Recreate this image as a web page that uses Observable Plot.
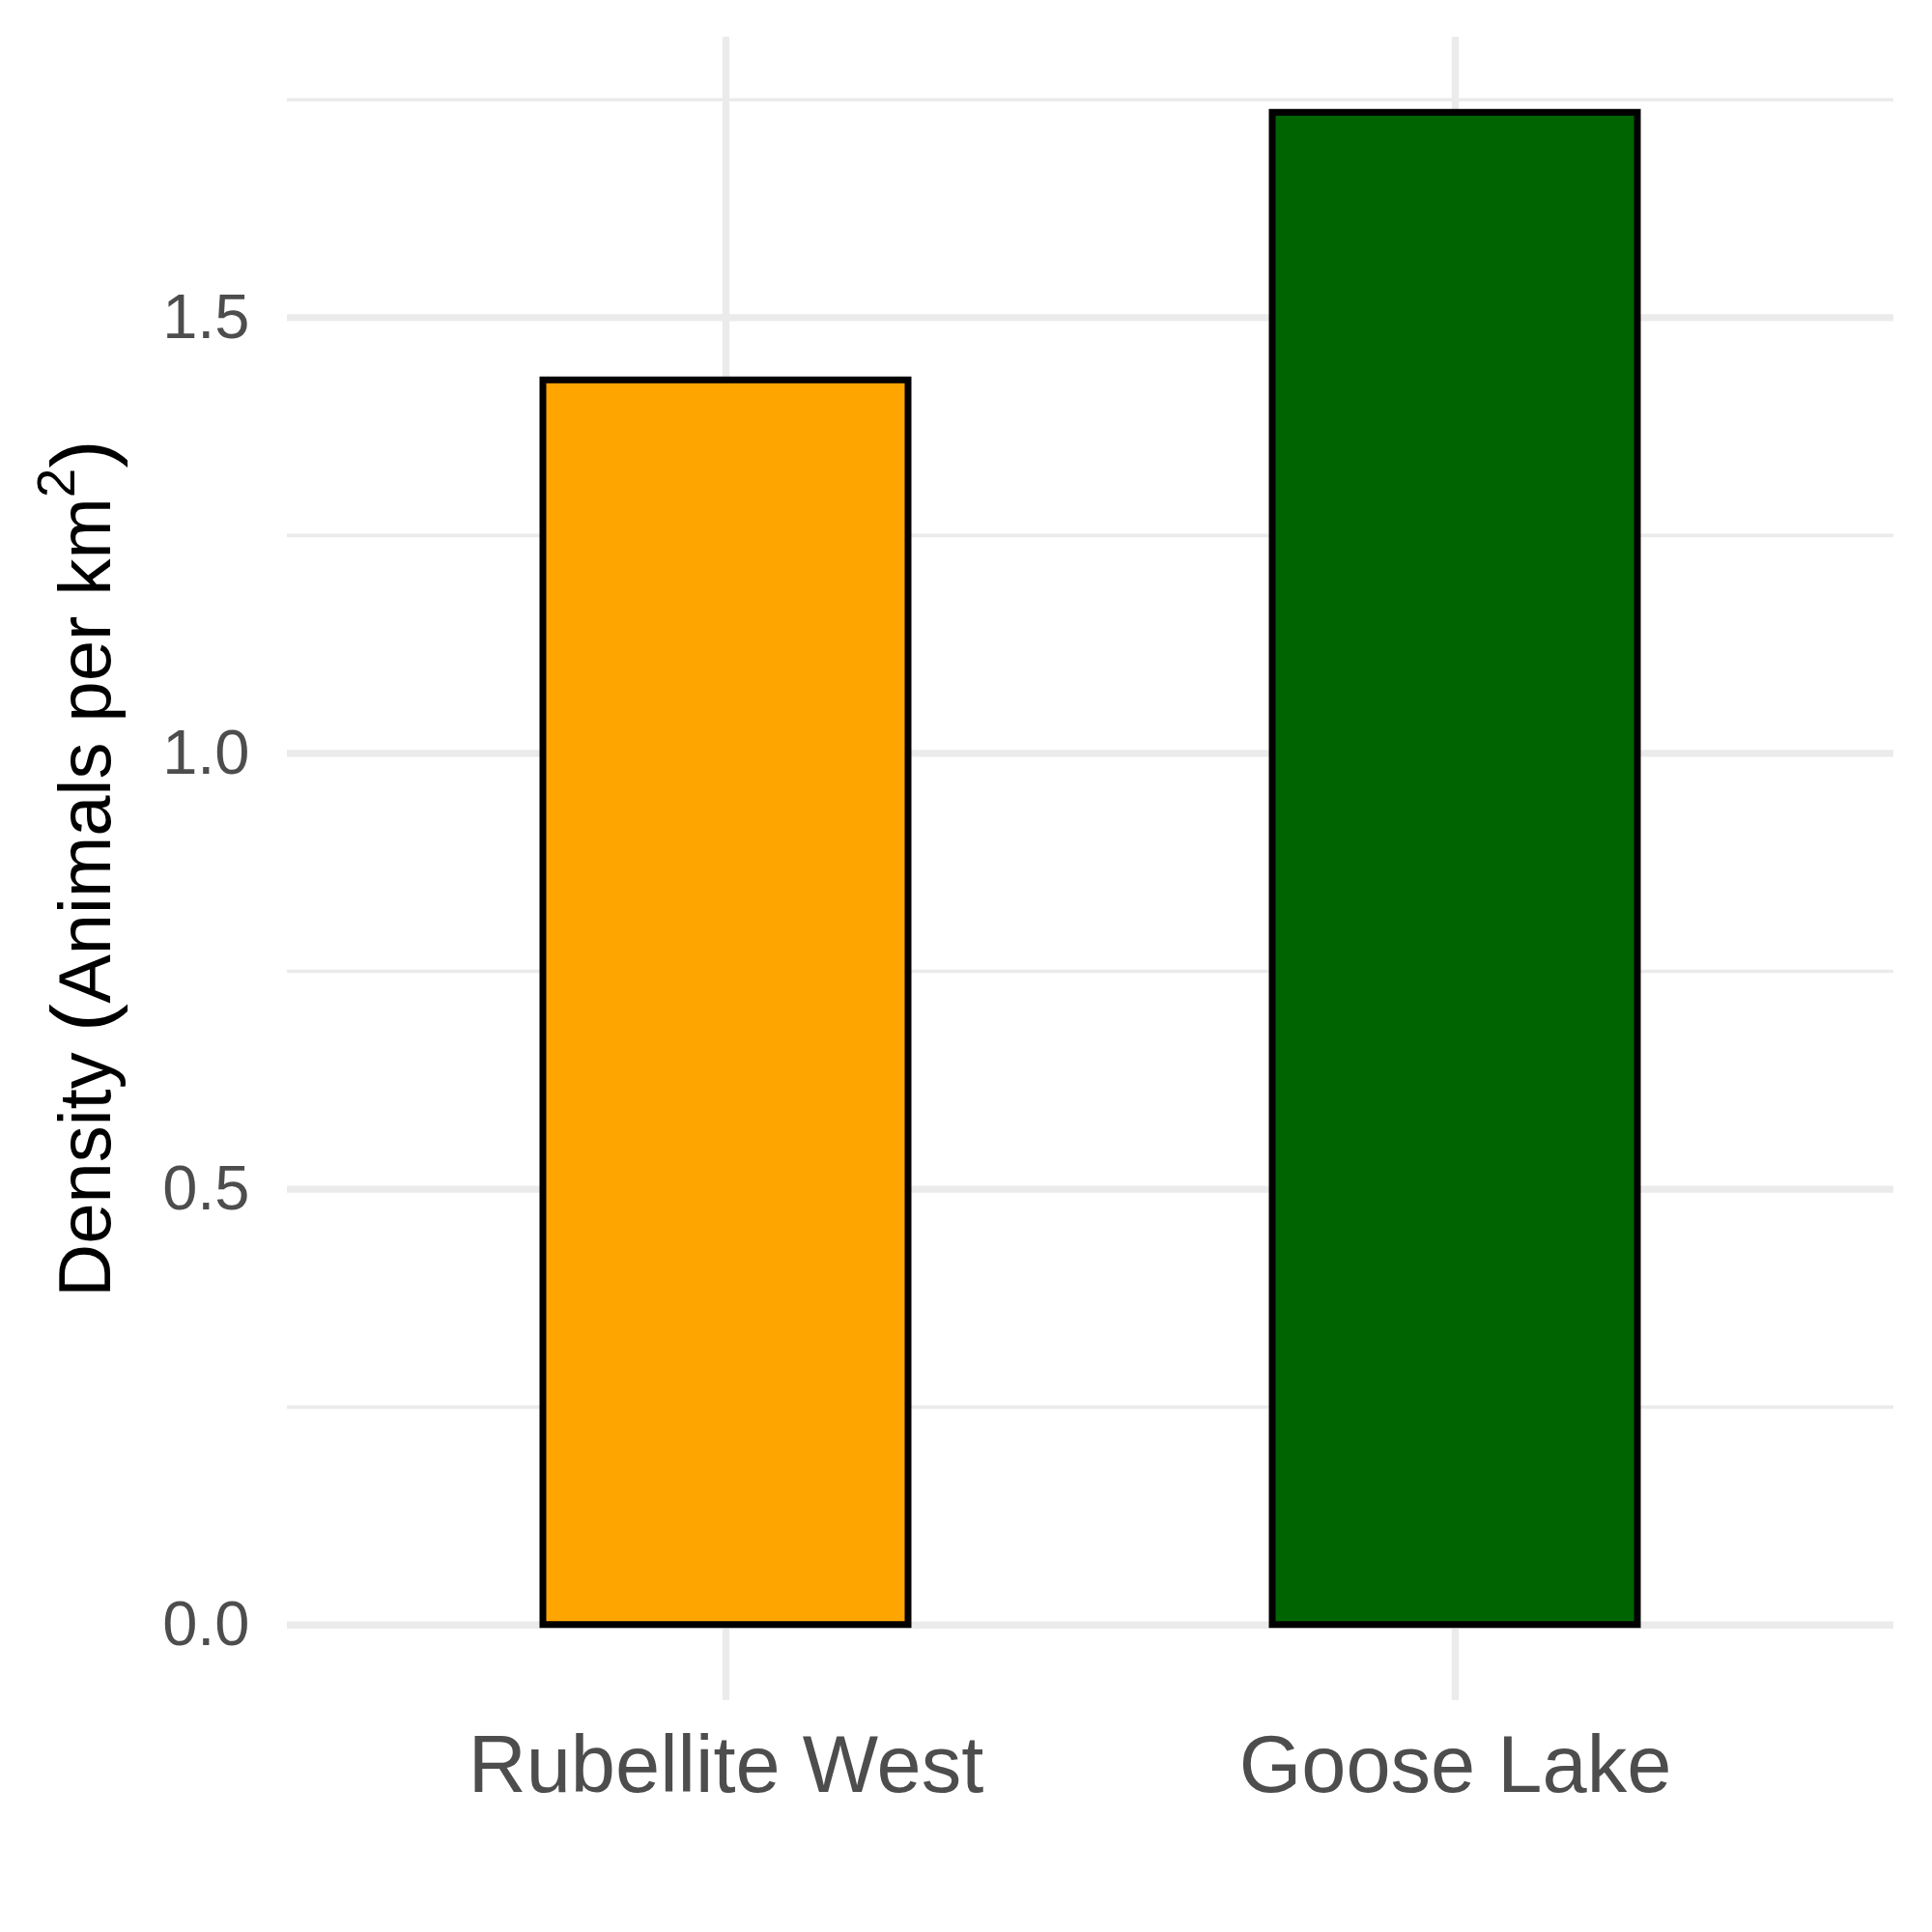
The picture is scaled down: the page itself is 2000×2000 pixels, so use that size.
<!DOCTYPE html>
<html>
<head>
<meta charset="utf-8">
<script src="https://cdn.jsdelivr.net/npm/d3@7"></script>
<script src="https://cdn.jsdelivr.net/npm/@observablehq/plot@0.6"></script>
<style>
  html, body { margin: 0; padding: 0; background: #ffffff; }
  #chart { width: 2000px; height: 2000px; }
</style>
</head>
<body>
<div id="chart"></div>
<script>
// ---- data ----
const sites = ["Rubellite West", "Goose Lake"];
const density = [1.428, 1.735];
const barColors = ["#FFA500", "#006400"];
const majorTicks = [0, 0.5, 1.0, 1.5];
const majorTickLabels = ["0.0", "0.5", "1.0", "1.5"];
const minorTicks = [0.25, 0.75, 1.25, 1.75];
const yTitleParts = ["Density ", "(", "Animals per km", "2", ")"];

const table = sites.map((s, i) => ({site: s, density: density[i]}));

// ggplot-like 5% expansion of the y range
const yMax = d3.max(density);
const pad = 0.05 * yMax;

const font = "'Liberation Sans', Arial, sans-serif";
const gridColor = "#EBEBEB";

const chart = Plot.plot({
  width: 2000,
  height: 2000,
  marginLeft: 297,
  marginRight: 40,
  marginTop: 38,
  marginBottom: 240,
  style: {fontFamily: font, background: "#ffffff", color: "#000000"},
  x: {domain: sites, paddingInner: 0.5, paddingOuter: 0.35, label: null},
  y: {domain: [-pad, yMax + pad], label: null},
  color: {domain: sites, range: barColors},
  marks: [
    Plot.gridY(minorTicks, {stroke: gridColor, strokeOpacity: 1, strokeWidth: 3.6}),
    Plot.gridY(majorTicks, {stroke: gridColor, strokeOpacity: 1, strokeWidth: 7.3}),
    Plot.gridX(sites, {stroke: gridColor, strokeOpacity: 1, strokeWidth: 7.3}),
    Plot.barY(table, {x: "site", y: "density", fill: "site", stroke: "#000000", strokeWidth: 7}),
    Plot.axisY(majorTicks, {
      tickSize: 0, tickPadding: 39, fontSize: 65, color: "#4D4D4D",
      tickFormat: d => majorTickLabels[majorTicks.indexOf(d)], label: null
    }),
    Plot.axisX({tickSize: 0, tickPadding: 36, fontSize: 83, color: "#4D4D4D", label: null})
  ]
});

document.getElementById("chart").appendChild(chart);

// y-axis title with superscript (rotated, centered on the panel)
const svg = d3.select(chart);
const panelMid = (38 + (2000 - 240)) / 2;
const title = svg.append("text")
  .attr("transform", `translate(114, ${panelMid}) rotate(-90)`)
  .attr("text-anchor", "middle")
  .attr("font-family", font)
  .attr("font-size", 76)
  .attr("fill", "#000000");
title.append("tspan").text(yTitleParts[0]);
title.append("tspan").attr("font-size", 88).text(yTitleParts[1]);
title.append("tspan").text(yTitleParts[2]);
title.append("tspan").attr("font-size", 55).attr("dy", -37).text(yTitleParts[3]);
title.append("tspan").attr("font-size", 88).attr("dy", 37).text(yTitleParts[4]);
</script>
</body>
</html>
